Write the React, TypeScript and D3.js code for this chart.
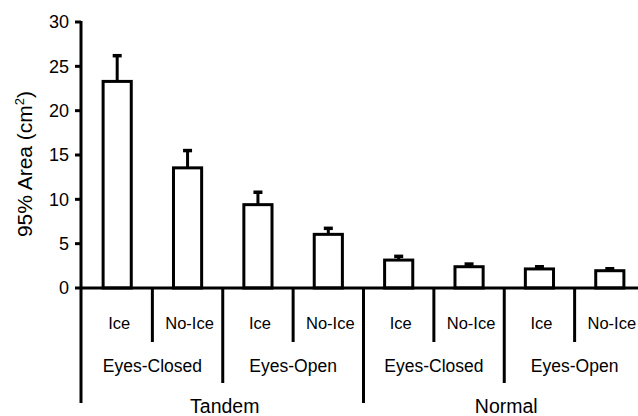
import React, { useEffect, useRef } from 'react'
import * as d3 from 'd3'

const conditions = ['Ice', 'No-Ice', 'Ice', 'No-Ice', 'Ice', 'No-Ice', 'Ice', 'No-Ice']
const eyeGroups = ['Eyes-Closed', 'Eyes-Open', 'Eyes-Closed', 'Eyes-Open']
const stances = ['Tandem', 'Normal']
const meanArea = [23.3, 13.55, 9.4, 6.05, 3.15, 2.4, 2.15, 1.95]
const errArea = [2.9, 1.95, 1.4, 0.68, 0.42, 0.3, 0.25, 0.22]
const yTicks = [0, 5, 10, 15, 20, 25, 30]

const W = 638
const H = 416

export default function App() {
  const ref = useRef<SVGSVGElement>(null)

  useEffect(() => {
    const svg = d3.select(ref.current)
    svg.selectAll('*').remove()

    const x = d3.scaleBand<number>()
      .domain(d3.range(conditions.length))
      .range([82, 645])
      .paddingInner(0.6)
      .paddingOuter(0.3)
    const y = d3.scaleLinear().domain([0, 30]).range([288, 22])
    const step = x.step()
    const gap = step * 0.6 / 2
    const font = 'Liberation Sans, Arial, sans-serif'

    // bars
    svg.selectAll('rect.bar')
      .data(meanArea)
      .enter()
      .append('rect')
      .attr('class', 'bar')
      .attr('x', (d, i) => x(i)!)
      .attr('y', d => y(d))
      .attr('width', x.bandwidth())
      .attr('height', d => y(0) - y(d))
      .attr('fill', 'white')
      .attr('stroke', 'black')
      .attr('stroke-width', 3)

    // error bars (upper only)
    const eb = svg.selectAll('g.err')
      .data(meanArea)
      .enter()
      .append('g')
      .attr('stroke', 'black')
    eb.append('line')
      .attr('x1', (d, i) => x(i)! + x.bandwidth() / 2)
      .attr('x2', (d, i) => x(i)! + x.bandwidth() / 2)
      .attr('y1', d => y(d))
      .attr('y2', (d, i) => y(d + errArea[i]))
      .attr('stroke-width', 3)
    eb.append('line')
      .attr('x1', (d, i) => x(i)! + x.bandwidth() / 2 - 4.5)
      .attr('x2', (d, i) => x(i)! + x.bandwidth() / 2 + 4.5)
      .attr('y1', (d, i) => y(d + errArea[i]))
      .attr('y2', (d, i) => y(d + errArea[i]))
      .attr('stroke-width', 3.5)

    // y axis
    svg.append('line')
      .attr('x1', 81).attr('x2', 81)
      .attr('y1', y(30) - 1).attr('y2', 403)
      .attr('stroke', 'black').attr('stroke-width', 3)
    svg.selectAll('line.ytick')
      .data(yTicks)
      .enter()
      .append('line')
      .attr('x1', 75).attr('x2', 81)
      .attr('y1', d => y(d)).attr('y2', d => y(d))
      .attr('stroke', 'black').attr('stroke-width', 3)
    svg.selectAll('text.ytick')
      .data(yTicks)
      .enter()
      .append('text')
      .attr('x', 69)
      .attr('y', d => y(d))
      .attr('dy', '0.35em')
      .attr('text-anchor', 'end')
      .style('font-family', font)
      .style('font-size', '18px')
      .text(d => d)

    const yl = svg.append('text')
      .attr('transform', 'translate(32,164) rotate(-90)')
      .attr('text-anchor', 'middle')
      .style('font-family', font)
      .style('font-size', '21px')
    yl.append('tspan').text('95% Area (cm')
    yl.append('tspan').attr('dy', -8).style('font-size', '13px').text('2')
    yl.append('tspan').attr('dy', 8).text(')')

    // x axis
    svg.append('line')
      .attr('x1', 80).attr('x2', W + 5)
      .attr('y1', y(0)).attr('y2', y(0))
      .attr('stroke', 'black').attr('stroke-width', 3)

    // separators below the axis, deeper for higher grouping levels
    const depth = (i: number) => (i % 4 === 0 ? 403 : i % 2 === 0 ? 383 : 342)
    svg.selectAll('line.sep')
      .data(d3.range(1, conditions.length))
      .enter()
      .append('line')
      .attr('x1', i => x(i)! - gap)
      .attr('x2', i => x(i)! - gap)
      .attr('y1', y(0))
      .attr('y2', i => depth(i))
      .attr('stroke', 'black').attr('stroke-width', 3)

    svg.selectAll('text.cond')
      .data(conditions)
      .enter()
      .append('text')
      .attr('x', (d, i) => x(i)! + x.bandwidth() / 2 + 2)
      .attr('y', 329)
      .attr('text-anchor', 'middle')
      .style('font-family', font)
      .style('font-size', '16.5px')
      .text(d => d)

    svg.selectAll('text.eyes')
      .data(eyeGroups)
      .enter()
      .append('text')
      .attr('x', (d, i) => x(i * 2)! - gap + step)
      .attr('y', 372)
      .attr('text-anchor', 'middle')
      .style('font-family', font)
      .style('font-size', '17.5px')
      .text(d => d)

    svg.selectAll('text.stance')
      .data(stances)
      .enter()
      .append('text')
      .attr('x', (d, i) => x(i * 4)! - gap + step * 2 + 2)
      .attr('y', 413)
      .attr('text-anchor', 'middle')
      .style('font-family', font)
      .style('font-size', '19.5px')
      .text(d => d)
  }, [])

  return (
    <svg ref={ref} width={W} height={H}
      style={{ position: 'absolute', left: 0, top: 0, background: 'white' }} />
  )
}
